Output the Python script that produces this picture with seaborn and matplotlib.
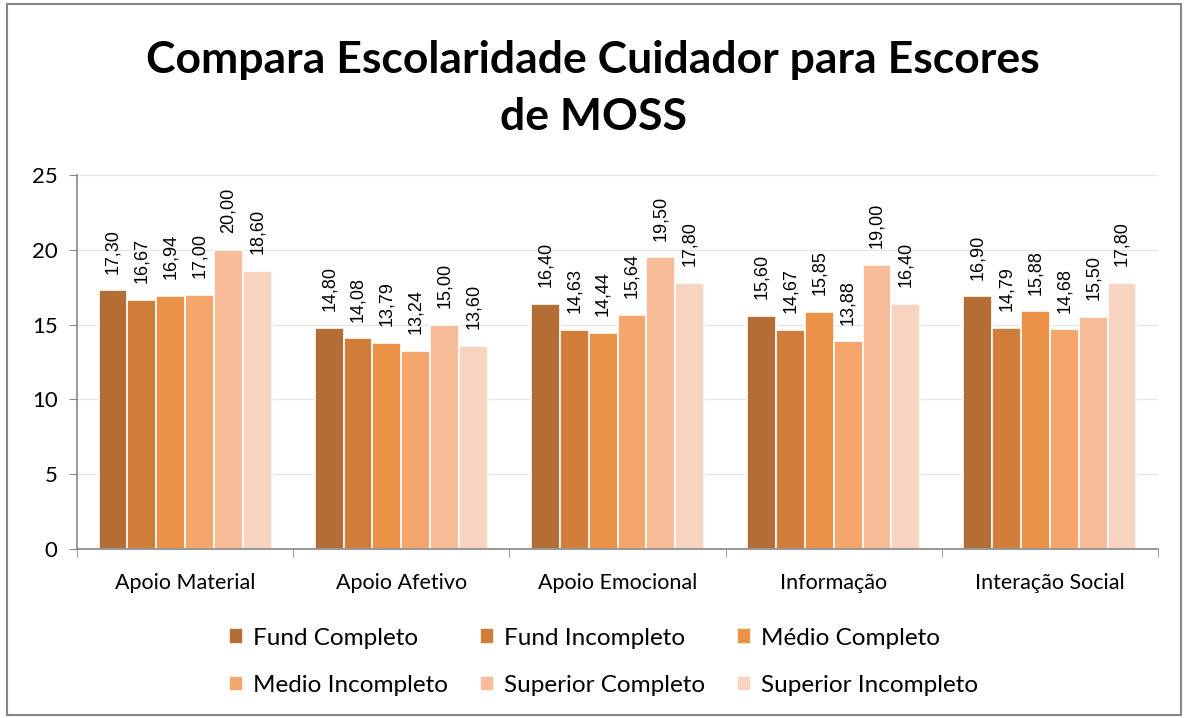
import pandas as pd
import matplotlib.pyplot as plt
import seaborn as sns
from matplotlib.patches import Rectangle

categorias = ['Apoio Material', 'Apoio Afetivo', 'Apoio Emocional', 'Informação', 'Interação Social']
grupos = ['Fund Completo', 'Fund Incompleto', 'Médio Completo',
          'Medio Incompleto', 'Superior Completo', 'Superior Incompleto']

fund_completo = [17.30, 14.80, 16.40, 15.60, 16.90]
fund_incompleto = [16.67, 14.08, 14.63, 14.67, 14.79]
medio_completo = [16.94, 13.79, 14.44, 15.85, 15.88]
medio_incompleto = [17.00, 13.24, 15.64, 13.88, 14.68]
superior_completo = [20.00, 15.00, 19.50, 19.00, 15.50]
superior_incompleto = [18.60, 13.60, 17.80, 16.40, 17.80]

cores = ['#B46D34', '#D17D3A', '#EA9146', '#F5A66D', '#F8BC98', '#F8D3C0']

valores = [fund_completo, fund_incompleto, medio_completo,
           medio_incompleto, superior_completo, superior_incompleto]
linhas = []
for g, vals in zip(grupos, valores):
    for c, v in zip(categorias, vals):
        linhas.append({'Categoria': c, 'Grupo': g, 'Escore': v})
df = pd.DataFrame(linhas)

sns.set_style('white')
plt.rcParams['font.family'] = ['Lato', 'DejaVu Sans']
plt.rcParams['text.color'] = 'black'
plt.rcParams['xtick.color'] = 'black'
plt.rcParams['ytick.color'] = 'black'

fig = plt.figure(figsize=(11.86, 7.18), dpi=100)
ax = fig.add_axes([77 / 1186, 1 - 549 / 718, (1158 - 77) / 1186, (549 - 175) / 718])

sns.barplot(data=df, x='Categoria', y='Escore', hue='Grupo', palette=cores,
            hue_order=grupos, order=categorias, width=0.8, ax=ax,
            edgecolor='white', linewidth=1.2, saturation=1, legend=True)

for cont in ax.containers:
    ax.bar_label(cont, labels=[f'{v:.2f}'.replace('.', ',') for v in cont.datavalues],
                 rotation=90, padding=12, fontsize=13, family='Liberation Sans')

ax.set_ylim(0, 25)
ax.set_yticks([0, 5, 10, 15, 20, 25])
ax.set_xlim(-0.5, 4.5)
ax.yaxis.grid(True, color='#E6E6E6', linewidth=1)
ax.set_axisbelow(True)
ax.set_xlabel('')
ax.set_ylabel('')
for s in ['top', 'right']:
    ax.spines[s].set_visible(False)
for s in ['left', 'bottom']:
    ax.spines[s].set_color('#868686')
    ax.spines[s].set_linewidth(1.2)

ax.tick_params(axis='y', labelsize=16, length=6, color='#868686', direction='out', left=True, pad=8,
               labelcolor='black')
ax.tick_params(axis='x', labelsize=15.5, length=0, pad=17, labelcolor='black')
# marcas entre categorias
ax.set_xticks([-0.5, 0.5, 1.5, 2.5, 3.5, 4.5], minor=True)
ax.tick_params(axis='x', which='minor', length=6, color='#868686', direction='out', bottom=True)

handles, labels = ax.get_legend_handles_labels()
ordem = [0, 3, 1, 4, 2, 5]
ax.legend([handles[i] for i in ordem], [labels[i] for i in ordem],
          loc='upper center', bbox_to_anchor=(0.487, -0.152), ncol=3, frameon=False,
          fontsize=17.5, handlelength=0.6, handleheight=0.6, handletextpad=0.4,
          columnspacing=1.3, labelspacing=1.08)

fig.text(0.5, 0.877, 'Compara Escolaridade Cuidador para Escores\nde MOSS',
         ha='center', va='center', fontsize=32, fontweight='bold', linespacing=1.5,
         color='black')

fig.patches.append(Rectangle((0.006, 0.004), 0.99, 0.99, transform=fig.transFigure,
                             fill=False, edgecolor='#868686', linewidth=1.5))

plt.savefig('out.png', dpi=100)
